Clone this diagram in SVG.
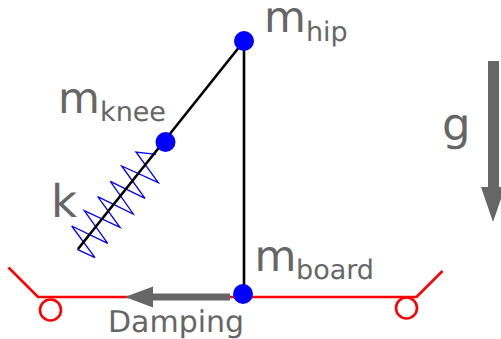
<svg xmlns="http://www.w3.org/2000/svg" width="501" height="339" viewBox="0 0 501 339">
<style>
text{font-family:"DejaVu Sans",sans-serif;fill:#666;text-rendering:geometricPrecision}
.b{font-size:43px}
.s{font-size:27px}
.mass{fill:#00f}
.red{fill:none;stroke:#f00;stroke-width:2.6}
.arrow{fill:#666}
</style>
<rect width="501" height="339" fill="#fff"/>
<g id="connectors">
<polyline id="spring" points="77.3,249.3 95,257.7 71.7,226 107.7,243.3 84.3,210.7 120,227.3 97.7,196.7 133.3,214 110.3,181.3 145,198.3 121.7,166 158.3,182.7 136,152 156,154.3" fill="none" stroke="#00f" stroke-width="1.3"/>
<path d="M244,41L78,249M244,41V294" fill="none" stroke="#000" stroke-width="2.6"/>
<polyline id="board" class="red" points="8.500,267.500 38,297 416.500,297 442.500,271"/>
<circle class="red" cx="50.500" cy="310" r="10.500"/>
<circle class="red" cx="406.500" cy="308" r="10.500"/>
<polygon id="damping-arrow" class="arrow" points="230,293.500 230,300.500 153,300.500 153,307.500 125,297 153,286.500 153,293.500"/>
<polygon id="g-arrow" class="arrow" points="488,61 499,61 499,187 505,187 493,222 481,187 488,187"/>
</g>
<g id="hip"><circle class="mass" cx="244" cy="41" r="10"/><text class="b" x="264" y="32">m</text><text class="s" x="306" y="41">hip</text></g>
<g id="knee"><circle class="mass" cx="165.500" cy="142" r="10"/><text class="b" x="58" y="113">m</text><text class="s" x="100" y="121">knee</text></g>
<g id="board-mass"><circle class="mass" cx="243" cy="294" r="10"/><text class="b" x="254.500" y="271">m</text><text class="s" x="296" y="279">board</text></g>
<g id="labels">
<text class="b" x="51" y="217" style="font-size:45px">k</text>
<text class="b" x="442" y="140" style="font-size:45px">g</text>
<text x="108" y="332" style="font-size:30px">Damping</text>
</g>
</svg>
